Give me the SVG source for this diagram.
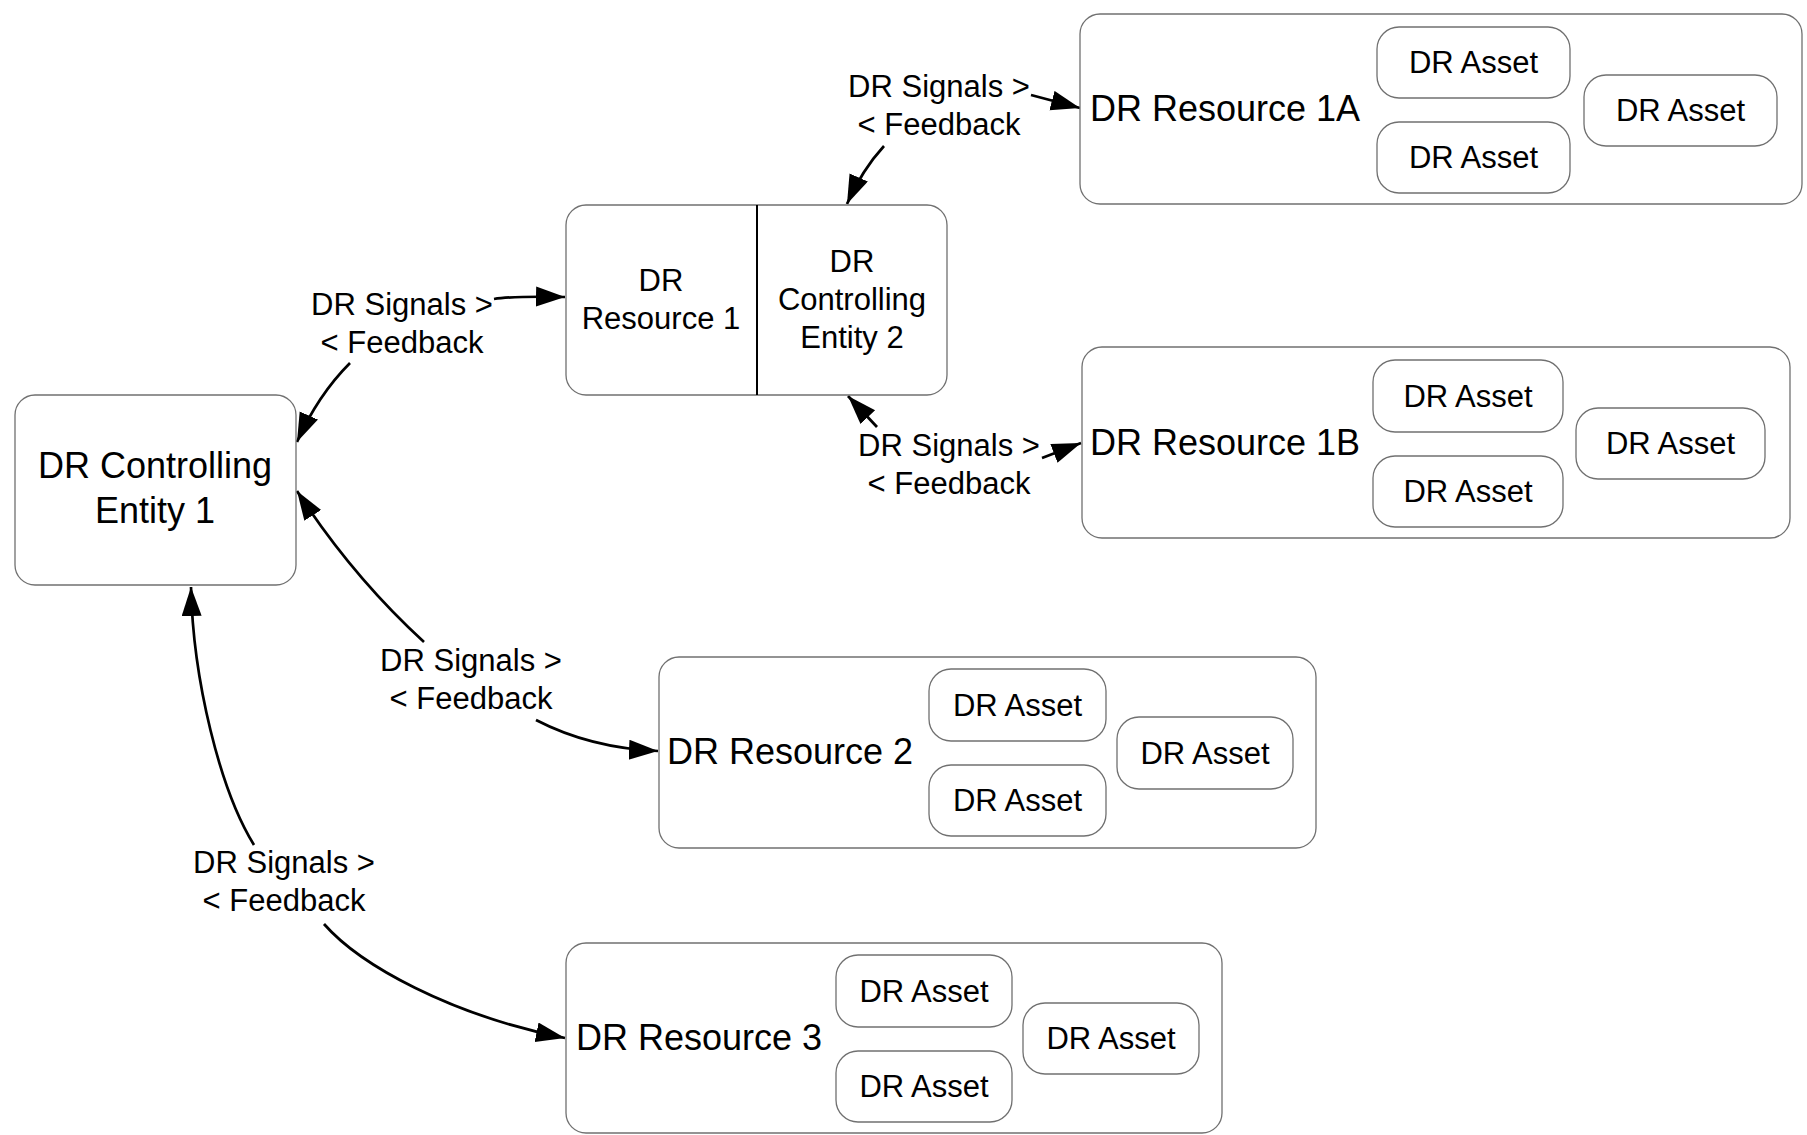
<svg xmlns="http://www.w3.org/2000/svg" width="1807" height="1135" viewBox="0 0 1807 1135">
<style>
.box{fill:#fff;stroke:#707070;stroke-width:1.3}
.asset{fill:#fff;stroke:#707070;stroke-width:1.3}
text{font-family:"Liberation Sans",Arial,sans-serif;fill:#000}
.big{font-size:36px}
.mid{font-size:31px}
.c{text-anchor:middle}
.conn{fill:none;stroke:#000;stroke-width:2.7}
</style>
<defs>
<marker id="ah" markerUnits="userSpaceOnUse" markerWidth="32" markerHeight="22" refX="29" refY="10" orient="auto">
<path d="M0,0 L29,10 L0,20 z" fill="#000"/>
</marker>
</defs>

<g id="connectors">
<path class="conn" d="M494,299 Q512,296 565,297" marker-end="url(#ah)"/>
<path class="conn" d="M350,363 Q318,395 297,442" marker-end="url(#ah)"/>
<path class="conn" d="M1031,95 L1080,108" marker-end="url(#ah)"/>
<path class="conn" d="M884,146 Q862,170 847,204" marker-end="url(#ah)"/>
<path class="conn" d="M1042,458 L1081,443" marker-end="url(#ah)"/>
<path class="conn" d="M877,427 L848,396" marker-end="url(#ah)"/>
<path class="conn" d="M424,642 Q352,576 297,491" marker-end="url(#ah)"/>
<path class="conn" d="M536,720 Q590,748 658,751" marker-end="url(#ah)"/>
<path class="conn" d="M254,845 C220,790 193,680 191,587" marker-end="url(#ah)"/>
<path class="conn" d="M324,924 C360,965 450,1015 565,1038" marker-end="url(#ah)"/>
<g id="labels">
<text class="mid c" x="402" y="315">DR Signals &gt;</text>
<text class="mid c" x="402" y="353">&lt; Feedback</text>
<text class="mid c" x="939" y="97">DR Signals &gt;</text>
<text class="mid c" x="939" y="135">&lt; Feedback</text>
<text class="mid c" x="949" y="456">DR Signals &gt;</text>
<text class="mid c" x="949" y="494">&lt; Feedback</text>
<text class="mid c" x="471" y="671">DR Signals &gt;</text>
<text class="mid c" x="471" y="709">&lt; Feedback</text>
<text class="mid c" x="284" y="873">DR Signals &gt;</text>
<text class="mid c" x="284" y="911">&lt; Feedback</text>
</g>
</g>

<g id="entity1">
<rect class="box" x="15" y="395" width="281" height="190" rx="20"/>
<text class="big c" x="155" y="478">DR Controlling</text>
<text class="big c" x="155" y="523">Entity 1</text>
</g>

<g id="resource1">
<rect class="box" x="566" y="205" width="381" height="190" rx="20"/>
<line x1="757" y1="205" x2="757" y2="395" stroke="#000" stroke-width="2"/>
<text class="mid c" x="661" y="291">DR</text>
<text class="mid c" x="661" y="329">Resource 1</text>
<g id="entity2">
<text class="mid c" x="852" y="272">DR</text>
<text class="mid c" x="852" y="310">Controlling</text>
<text class="mid c" x="852" y="348">Entity 2</text>
</g>
</g>

<g id="resource1A">
<rect class="box" x="1080" y="14" width="722" height="190" rx="20"/>
<text class="big" x="1090" y="121">DR Resource 1A</text>
<g id="asset1A-1"><rect class="asset" x="1377" y="27" width="193" height="71" rx="22"/><text class="mid c" x="1473.5" y="73">DR Asset</text></g>
<g id="asset1A-2"><rect class="asset" x="1377" y="122" width="193" height="71" rx="22"/><text class="mid c" x="1473.5" y="168">DR Asset</text></g>
<g id="asset1A-3"><rect class="asset" x="1584" y="75" width="193" height="71" rx="22"/><text class="mid c" x="1680.5" y="121">DR Asset</text></g>
</g>

<g id="resource1B">
<rect class="box" x="1082" y="347" width="708" height="191" rx="20"/>
<text class="big" x="1090" y="455">DR Resource 1B</text>
<g id="asset1B-1"><rect class="asset" x="1373" y="360" width="190" height="72" rx="22"/><text class="mid c" x="1468" y="407">DR Asset</text></g>
<g id="asset1B-2"><rect class="asset" x="1373" y="456" width="190" height="71" rx="22"/><text class="mid c" x="1468" y="502">DR Asset</text></g>
<g id="asset1B-3"><rect class="asset" x="1576" y="408" width="189" height="71" rx="22"/><text class="mid c" x="1670.5" y="454">DR Asset</text></g>
</g>

<g id="resource2">
<rect class="box" x="659" y="657" width="657" height="191" rx="20"/>
<text class="big" x="667" y="764">DR Resource 2</text>
<g id="asset2-1"><rect class="asset" x="929" y="669" width="177" height="72" rx="22"/><text class="mid c" x="1017.5" y="716">DR Asset</text></g>
<g id="asset2-2"><rect class="asset" x="929" y="765" width="177" height="71" rx="22"/><text class="mid c" x="1017.5" y="811">DR Asset</text></g>
<g id="asset2-3"><rect class="asset" x="1117" y="717" width="176" height="72" rx="22"/><text class="mid c" x="1205" y="764">DR Asset</text></g>
</g>

<g id="resource3">
<rect class="box" x="566" y="943" width="656" height="190" rx="20"/>
<text class="big" x="576" y="1050">DR Resource 3</text>
<g id="asset3-1"><rect class="asset" x="836" y="955" width="176" height="72" rx="22"/><text class="mid c" x="924" y="1002">DR Asset</text></g>
<g id="asset3-2"><rect class="asset" x="836" y="1051" width="176" height="71" rx="22"/><text class="mid c" x="924" y="1097">DR Asset</text></g>
<g id="asset3-3"><rect class="asset" x="1023" y="1003" width="176" height="71" rx="22"/><text class="mid c" x="1111" y="1049">DR Asset</text></g>
</g>
</svg>
